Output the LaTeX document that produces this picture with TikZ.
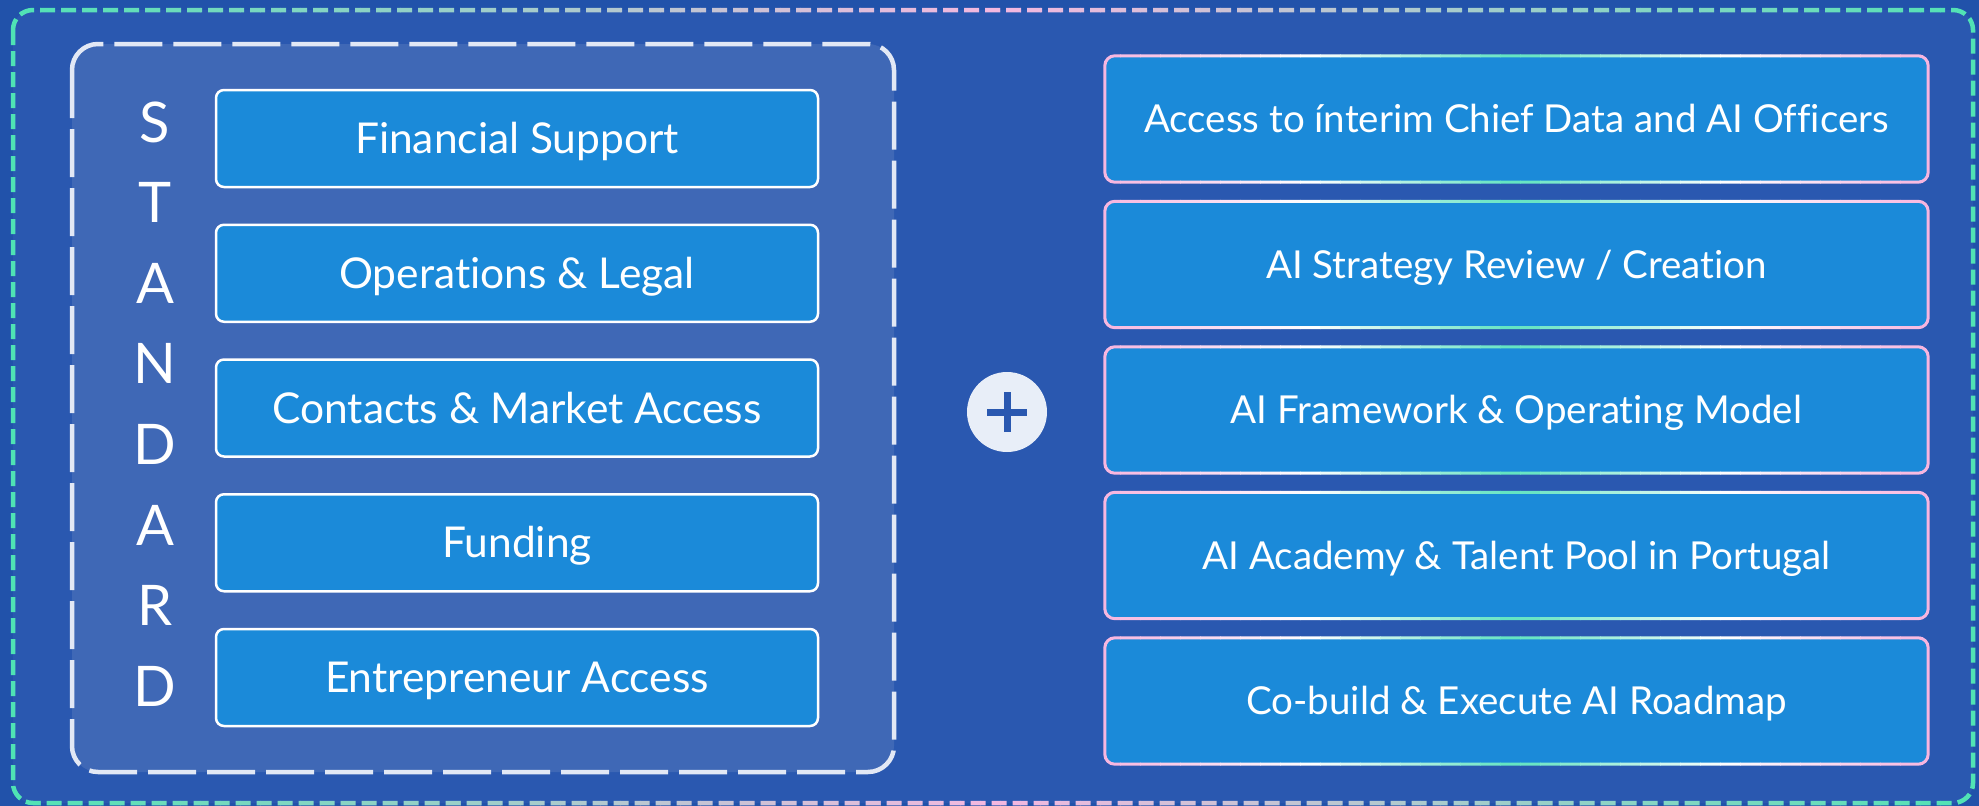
\documentclass[tikz,border=0pt]{standalone}
\usepackage{fontspec}
\setmainfont[Ligatures=NoCommon]{Lato}
\definecolor{outerbg}{HTML}{2152AA}
\definecolor{innerbg}{HTML}{2A58B0}
\definecolor{panel}{HTML}{3F68B6}
\definecolor{boxblue}{HTML}{1B8AD9}
\definecolor{panelline}{HTML}{E2E8F5}
\definecolor{fgreen}{HTML}{4FE3B4}
\definecolor{fpink}{HTML}{F4B8E0}
\definecolor{rpink}{HTML}{F7B5DF}
\definecolor{rgreen}{HTML}{5FE3C0}
\definecolor{plusfill}{HTML}{E8EEF8}
\tikzset{
  lbox/.style={draw=white, line width=2.5pt, fill=boxblue, rounded corners=8pt,
    minimum width=602pt, minimum height=97pt, text=white,
    font=\fontsize{42.5}{50}\selectfont, text height=30pt, text depth=0pt, inner sep=0pt},
  rbox/.style={fill=boxblue, rounded corners=10pt, minimum width=823pt,
    minimum height=126pt, text=white, font=\fontsize{38.5}{44}\selectfont,
    text height=27pt, text depth=0pt, inner sep=0pt},
  letter/.style={text=white, font=\fontsize{56}{60}\selectfont,
    text height=40pt, text depth=0pt, inner sep=0pt},
  frameline/.style={line width=4.5pt, dash pattern=on 15pt off 6pt, rounded corners=20pt},
  panelframe/.style={draw=panelline, line width=4.5pt, dash pattern=on 48pt off 11pt,
    fill=panel, rounded corners=26pt},
  rborder/.style={line width=3pt, rounded corners=10pt},
}
\begin{document}
\begin{tikzpicture}[x=1pt,y=-1pt]
\useasboundingbox (0,0) rectangle (1979,806);
\fill[outerbg] (0,0) rectangle (1979,806);
\fill[innerbg, rounded corners=20pt] (13,10) rectangle (1973,803);
% gradient dashed outer frame
\foreach \i in {0,...,99} {
  \pgfmathsetmacro\xa{\i*20}
  \pgfmathtruncatemacro\pp{100*min(1,abs(\xa+10-993)/980)}
  \colorlet{fc}{fgreen!\pp!fpink}
  \begin{scope}
    \clip (\xa,0) rectangle (\xa+20.5,806);
    \draw[frameline, draw=fc] (13,10) rectangle (1973,803);
  \end{scope}
}
% left panel
\draw[panelframe] (72,44) rectangle (894,772);
\foreach \c [count=\i from 0] in {S,T,A,N,D,A,R,D}
  \node[letter] (s\i) at (155,122+80.6*\i) {\c};
\node[lbox] (l1) at (517,138.5) {Financial Support};
\node[lbox] (l2) at (517,273.25) {Operations \& Legal};
\node[lbox] (l3) at (517,408) {Contacts \& Market Access};
\node[lbox] (l4) at (517,542.75) {Funding};
\node[lbox] (l5) at (517,677.5) {Entrepreneur Access};
% plus
\node[circle, fill=plusfill, minimum size=80pt, inner sep=0pt] (plus) at (1007,412) {};
\draw[innerbg, line width=7pt] ([xshift=-20pt]plus.center) -- ([xshift=20pt]plus.center);
\draw[innerbg, line width=7pt] ([yshift=-20pt]plus.center) -- ([yshift=20pt]plus.center);
% right boxes
\node[rbox] (r1) at (1516.5,119) {Access to ínterim Chief Data and AI Officers};
\node[rbox] (r2) at (1516.5,264.5) {AI Strategy Review / Creation};
\node[rbox] (r3) at (1516.5,410) {AI Framework \& Operating Model};
\node[rbox] (r4) at (1516.5,555.5) {AI Academy \& Talent Pool in Portugal};
\node[rbox] (r5) at (1516.5,701) {Co-build \& Execute AI Roadmap};
\foreach \i in {0,...,41} {
  \pgfmathsetmacro\xa{1100+\i*20}
  \pgfmathsetmacro\tt{min(1,abs(\xa+10-1516.5)/411.5)}
  \pgfmathtruncatemacro\pa{min(100,200*\tt)}
  \pgfmathtruncatemacro\pb{max(0,200*\tt-100)}
  \colorlet{bca}{white!\pa!rgreen}
  \colorlet{bcb}{rpink!\pb!bca}
  \begin{scope}
    \clip (\xa,0) rectangle (\xa+20.5,806);
    \foreach \n in {1,...,5}
      \draw[rborder, draw=bcb] (r\n.south west) rectangle (r\n.north east);
  \end{scope}
}
\end{tikzpicture}
\end{document}
